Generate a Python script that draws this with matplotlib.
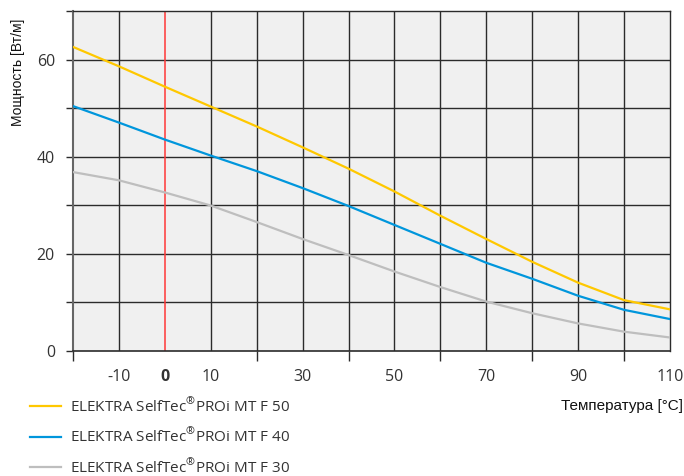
import matplotlib
matplotlib.use("Agg")
import matplotlib.pyplot as plt
from matplotlib.ticker import MultipleLocator, FixedLocator, NullFormatter

plt.rcParams['font.family'] = ['Open Sans', 'DejaVu Sans']
plt.rcParams['mathtext.fontset'] = 'custom'
plt.rcParams['mathtext.rm'] = 'Open Sans'

# data
temps = [-20, -10, 0, 10, 20, 30, 40, 50, 60, 70, 80, 90, 100, 110]
f50 = [62.6, 58.6, 54.4, 50.3, 46.2, 41.9, 37.5, 32.8, 27.8, 23.0, 18.3, 14.0, 10.4, 8.5]
f40 = [50.4, 47.0, 43.5, 40.2, 37.0, 33.5, 29.8, 25.9, 22.0, 18.1, 14.8, 11.3, 8.4, 6.5]
f30 = [36.8, 35.1, 32.6, 29.9, 26.5, 23.0, 19.7, 16.3, 13.1, 10.1, 7.7, 5.6, 3.9, 2.7]
labels = ["ELEKTRA SelfTec$^{®}$PROi MT F 50",
          "ELEKTRA SelfTec$^{®}$PROi MT F 40",
          "ELEKTRA SelfTec$^{®}$PROi MT F 30"]
colors = ["#ffc800", "#0096dc", "#bebebe"]
xtick_vals = [-10, 0, 10, 30, 50, 70, 90, 110]
ytick_vals = [0, 20, 40, 60]

txt = "#333333"
grid_c = "#2b2b2b"

fig = plt.figure(figsize=(6.84, 4.76), dpi=100)
ax = fig.add_axes([73/684, 1-350.6/476, 597/684, 339.6/476])
ax.set_facecolor("#f0f0f0")
ax.set_xlim(-20, 110)
ax.set_ylim(0, 70)

# grid
for x in range(-10, 110, 10):
    if x == 0:
        continue
    ax.axvline(x, color=grid_c, lw=1.0, zorder=1)
for y in range(10, 70, 10):
    ax.axhline(y, color=grid_c, lw=1.0, zorder=1)
ax.axvline(0, color="#ff3838", lw=1.1, zorder=2)

for vals, lab, c in zip([f50, f40, f30], labels, colors):
    ax.plot(temps, vals, color=c, lw=1.6, label=lab, zorder=3)

for s in ["top", "right"]:
    ax.spines[s].set_color(grid_c)
    ax.spines[s].set_linewidth(1.0)
ax.spines["left"].set_color("#666666")
ax.spines["left"].set_linewidth(1.5)
ax.spines["bottom"].set_color(grid_c)
ax.spines["bottom"].set_linewidth(1.2)

# y ticks
ax.yaxis.set_major_locator(FixedLocator(ytick_vals))
ax.yaxis.set_minor_locator(MultipleLocator(10))
ax.yaxis.set_minor_formatter(NullFormatter())
ax.tick_params(axis="y", which="both", length=5, width=1.0, color=grid_c,
               labelsize=11.5, labelcolor=txt, pad=8)

# x ticks: marks at even decades, labels at odd positions
ax.xaxis.set_major_locator(FixedLocator(xtick_vals))
ax.xaxis.set_minor_locator(FixedLocator([-20, 20, 40, 60, 80, 100]))
ax.xaxis.set_minor_formatter(NullFormatter())
ax.tick_params(axis="x", which="major", length=0, labelsize=11.5,
               labelcolor=txt, pad=13)
ax.tick_params(axis="x", which="minor", length=7, width=1.0, color=grid_c)
ax.set_xticklabels([str(v) for v in xtick_vals])
ax.get_xticklabels()[1].set_fontweight("bold")

fig.text(18/684, 1-72/476, "Мощность [Вт/м]", rotation=90, ha="center",
         va="center", fontsize=10, color="#111111", family="Liberation Sans")
fig.text(683/684, 1-406/476, "Температура [°C]", ha="right", va="center",
         fontsize=11, color="#111111", family="Liberation Sans")

leg = fig.legend(loc="upper left", bbox_to_anchor=(30/684, 1-397/476),
                 frameon=False, fontsize=11, handlelength=2.0,
                 handletextpad=0.65, labelspacing=0.8, borderaxespad=0,
                 borderpad=0)
for t in leg.get_texts():
    t.set_color(txt)

fig.savefig("out.png", dpi=100)
